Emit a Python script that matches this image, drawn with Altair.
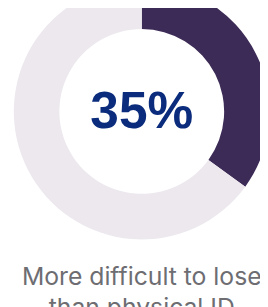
import altair as alt
import pandas as pd

categories = ["More difficult to lose than physical ID", "Other"]
values = [35, 65]
order = [0, 1]
colors = ["#3d2b57", "#ece8ee"]
center_label = ["35%"]
caption_lines = ["More difficult to lose", "than physical ID"]

df = pd.DataFrame({"category": categories, "value": values, "order": order})

W, H = 260, 299
cx, cy = 138, 102

donut = alt.Chart(df).mark_arc(radius=132, radius2=85, stroke=None).encode(
    theta=alt.Theta("value:Q", stack=True),
    order=alt.Order("order:Q"),
    color=alt.Color("category:N", scale=alt.Scale(domain=categories, range=colors), legend=None),
    x=alt.value(cx),
    y=alt.value(cy),
)

center = alt.Chart(pd.DataFrame({"t": center_label})).mark_text(
    font="Liberation Sans", fontSize=53, fontWeight="bold", color="#0b2c7c", baseline="middle", align="center"
).encode(text="t:N", x=alt.value(cx), y=alt.value(cy + 1))

caption = alt.Chart(pd.DataFrame({"t": [caption_lines]})).mark_text(
    font="Inter", fontSize=25.5, color="#6d6d72", baseline="alphabetic", align="center", lineHeight=32
).encode(text="t", x=alt.value(cx), y=alt.value(281))

chart = alt.layer(donut, center, caption).properties(
    width=W, height=H, padding=0, autosize=alt.AutoSizeParams(type="none")
).configure_view(stroke=None)

chart.save("out.html", embed_options={"renderer": "svg", "actions": False})
